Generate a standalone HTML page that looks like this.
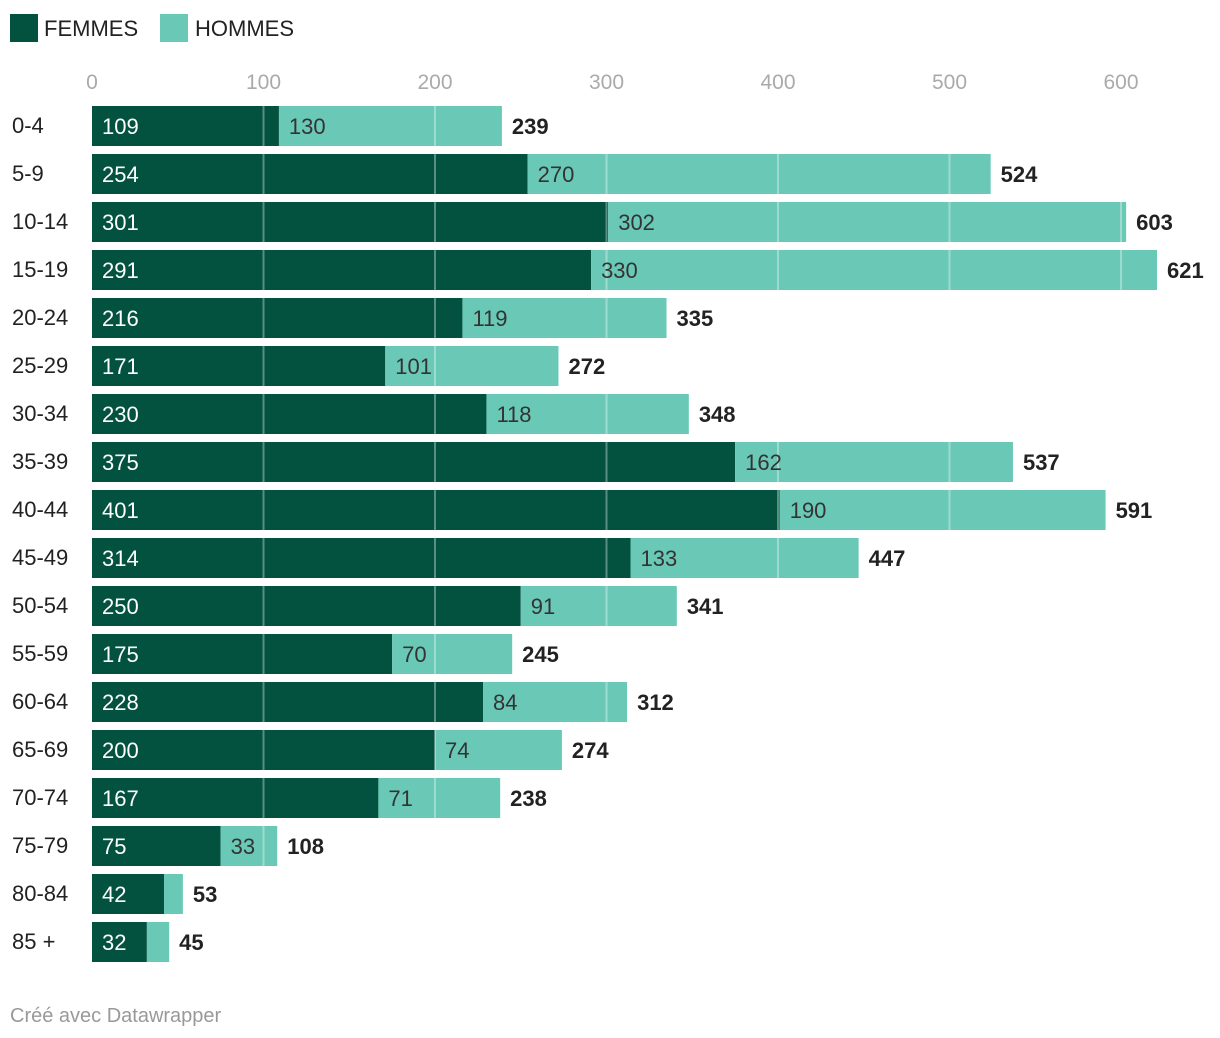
<!DOCTYPE html>
<html><head><meta charset="utf-8">
<style>
body{margin:0;background:#fff;width:1220px;height:1038px;overflow:hidden;font-family:"Liberation Sans",Arial,sans-serif;}
svg{display:block}
</style></head>
<body>
<svg id="chart" width="1220" height="1038">
  <g>
    <rect x="10" y="14" width="28" height="28" fill="#02523f"></rect>
    <text x="44" y="36" font-size="22" fill="#222">FEMMES</text>
    <rect x="160" y="14" width="28" height="28" fill="#6ac8b6"></rect>
    <text x="195" y="36" font-size="22" fill="#222">HOMMES</text>
  </g>
  <text x="10" y="1022" font-size="20" fill="#999">Créé avec Datawrapper</text>
</svg>
<script>
const categories = ["0-4","5-9","10-14","15-19","20-24","25-29","30-34","35-39","40-44","45-49","50-54","55-59","60-64","65-69","70-74","75-79","80-84","85 +"];
const femmes = [109,254,301,291,216,171,230,375,401,314,250,175,228,200,167,75,42,32];
const hommes = [130,270,302,330,119,101,118,162,190,133,91,70,84,74,71,33,11,13];
const ticks = [0,100,200,300,400,500,600];

const svg = document.getElementById('chart');
const NS = 'http://www.w3.org/2000/svg';
const x0 = 92, scale = 1.715;
const xs = v => x0 + v * scale;
const rowY = i => 106 + i * 48;
const barH = 40;
function mk(tag, attrs, text){
  const e = document.createElementNS(NS, tag);
  for (const k in attrs) e.setAttribute(k, attrs[k]);
  if (text !== undefined) e.textContent = text;
  svg.appendChild(e);
  return e;
}
ticks.forEach(t => {
  const e = mk('text', {x: xs(t), y: 89, 'font-size': 21, fill: '#aaa', 'text-anchor': 'middle'}, String(t));
  
  
});
categories.forEach((c, i) => {
  const y = rowY(i);
  const l = mk('text', {x: 12, y: y + 27, 'font-size': 22, fill: '#222'}, c);
  
  
  const f = femmes[i], h = hommes[i];
  const b1 = mk('rect', {x: xs(0), y: y, width: f * scale, height: barH, fill: '#02523f'});
  
  
  const b2 = mk('rect', {x: xs(f), y: y, width: h * scale, height: barH, fill: '#6ac8b6'});
  
  
  ticks.slice(1).forEach(t => {
    if (t < f + h) {
      const g = mk('line', {x1: xs(t), x2: xs(t), y1: y, y2: y + barH, stroke: 'rgba(255,255,255,0.35)', 'stroke-width': 2});
      
      
    }
  });
  const v1 = mk('text', {x: xs(0) + 10, y: y + 28, 'font-size': 22, fill: '#fff'}, String(f));
  
  
  if (h * scale > 30) {
    const v2 = mk('text', {x: xs(f) + 10, y: y + 28, 'font-size': 22, fill: '#333'}, String(h));
    
    
  }
  const tt = mk('text', {x: xs(f + h) + 10, y: y + 28, 'font-size': 22, 'font-weight': 'bold', fill: '#222'}, String(f + h));
  
  
});
</script>
</body></html>
